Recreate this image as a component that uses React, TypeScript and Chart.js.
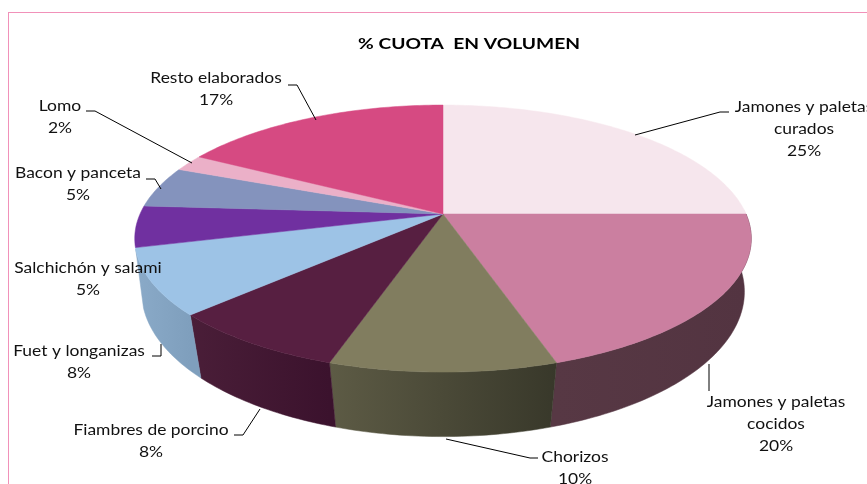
import React, { useEffect, useRef } from "react";
import { Chart, registerables } from "chart.js";

Chart.register(...registerables);

const categories = [
  "Jamones y paletas curados",
  "Jamones y paletas cocidos",
  "Chorizos",
  "Fiambres de porcino",
  "Fuet y longanizas",
  "Salchichón y salami",
  "Bacon y panceta",
  "Lomo",
  "Resto elaborados",
];
const values = [25, 20, 10, 8, 8, 5, 5, 2, 17];
const topColors = ["#f6e6ed", "#cb7fa0", "#817d5f", "#571f41", "#9dc3e6", "#7030a0", "#8493bd", "#ebb0c8", "#d64a82"];
const wallStart = ["#f6e6ed", "#533441", "#38382a", "#3b122d", "#7f9fbd", "#7030a0", "#8493bd", "#ebb0c8", "#d64a82"];
const wallEnd = ["#f6e6ed", "#573844", "#5d5b45", "#4a1e38", "#8aaac8", "#7030a0", "#8493bd", "#ebb0c8", "#d64a82"];
const titleText = "% CUOTA  EN VOLUMEN";

const labelLines = [
  ["Jamones y paletas", "curados", "25%"],
  ["Jamones y paletas", "cocidos", "20%"],
  ["Chorizos", "10%"],
  ["Fiambres de porcino", "8%"],
  ["Fuet y longanizas", "8%"],
  ["Salchichón y salami", "5%"],
  ["Bacon y panceta", "5%"],
  ["Lomo", "2%"],
  ["Resto elaborados", "17%"],
];
const labelAnchors = [
  [804, 107], [776, 402], [575, 457], [151, 430], [79, 351], [88, 268], [78, 173], [60, 106], [216, 78],
];
const leaders = [
  [[635, 135], [720, 112], [729, 112]],
  [[709, 364], [709, 391]],
  [[446, 439], [530, 458], [538, 458]],
  [[260, 409], [243, 435], [234, 435]],
  [[161, 344], [161, 356], [152, 356]],
  [],
  [[161, 189], [155, 179], [146, 179]],
  [[192, 163], [95, 111], [86, 111]],
  [[316, 120], [297, 85], [288, 85]],
];

// perspective planes of the pie: top face and bottom rim
const topPlane = { cx: 443, cy: 214, a: 303, b: 129, p: 0.184 };
const bottomPlane = { cx: 443, cy: 270, a: 298, b: 141.6, p: 0.15 };

type Plane = typeof topPlane;
const project = (pl: Plane, theta: number, r = 1): [number, number] => {
  const u = r * Math.sin(theta);
  const v = -r * Math.cos(theta);
  const d = 1 - pl.p * v;
  return [pl.cx + (pl.a * u) / d, pl.cy + (pl.b * v) / d];
};

const stretchedText = (ctx: CanvasRenderingContext2D, text: string, x: number, y: number, sx: number) => {
  ctx.save();
  ctx.translate(x, y);
  ctx.scale(sx, 1);
  ctx.fillText(text, 0, 0);
  ctx.restore();
};

const pie3d = {
  id: "pie3d",
  beforeDatasetDraw(chart: any) {
    const ctx = chart.ctx as CanvasRenderingContext2D;
    const arcs = chart.getDatasetMeta(0).data as any[];
    const step = Math.PI / 180;

    // walls
    const minT = (88 * Math.PI) / 180;
    const maxT = (255 * Math.PI) / 180;
    arcs.forEach((arc, i) => {
      const s = Math.max(arc.startAngle + Math.PI / 2, minT);
      const e = Math.min(arc.endAngle + Math.PI / 2, maxT);
      if (e <= s) return;
      const [x0] = project(topPlane, s);
      const [x1] = project(topPlane, e);
      const g = ctx.createLinearGradient(x0, 0, x1, 0);
      g.addColorStop(0, wallStart[i]);
      g.addColorStop(1, wallEnd[i]);
      ctx.beginPath();
      for (let t = s; t < e; t += step) ctx.lineTo(...project(topPlane, t));
      ctx.lineTo(...project(topPlane, e));
      for (let t = e; t > s; t -= step) ctx.lineTo(...project(bottomPlane, t));
      ctx.lineTo(...project(bottomPlane, s));
      ctx.closePath();
      ctx.fillStyle = g;
      ctx.strokeStyle = g;
      ctx.lineWidth = 0.5;
      ctx.fill();
      ctx.stroke();
    });

    // top face
    arcs.forEach((arc) => {
      const s = arc.startAngle + Math.PI / 2;
      const e = arc.endAngle + Math.PI / 2;
      ctx.beginPath();
      ctx.moveTo(topPlane.cx, topPlane.cy);
      for (let t = s; t < e; t += step) ctx.lineTo(...project(topPlane, t));
      ctx.lineTo(...project(topPlane, e));
      ctx.closePath();
      ctx.fillStyle = arc.options.backgroundColor;
      ctx.strokeStyle = arc.options.backgroundColor;
      ctx.lineWidth = 0.5;
      ctx.fill();
      ctx.stroke();
    });
    return false; // the native flat arcs are replaced by the projected ones
  },
  afterDraw(chart: any) {
    const ctx = chart.ctx as CanvasRenderingContext2D;
    ctx.save();
    // frame
    ctx.strokeStyle = "#f191b9";
    ctx.lineWidth = 1;
    ctx.strokeRect(8.5, 12.5, 900, 600);

    // leaders
    ctx.strokeStyle = "#000";
    ctx.lineWidth = 1;
    leaders.forEach((pts) => {
      if (!pts.length) return;
      ctx.beginPath();
      pts.forEach((p) => ctx.lineTo(p[0], p[1]));
      ctx.stroke();
    });

    // labels
    ctx.fillStyle = "#111";
    ctx.textAlign = "center";
    ctx.textBaseline = "middle";
    ctx.font = '16px Lato, "Open Sans", sans-serif';
    labelLines.forEach((lines, i) => {
      const [x, y] = labelAnchors[i];
      lines.forEach((line, j) => stretchedText(ctx, line, x, y + j * 22, 1.09));
    });

    // title
    ctx.fillStyle = "#000";
    ctx.font = 'bold 16px Lato, "Open Sans", sans-serif';
    stretchedText(ctx, titleText, 469, 44, 1.2);
    ctx.restore();
  },
};

export default function App() {
  const ref = useRef<HTMLCanvasElement>(null);
  useEffect(() => {
    const chart = new Chart(ref.current!, {
      type: "pie",
      data: {
        labels: categories,
        datasets: [{ data: values, backgroundColor: topColors, borderWidth: 0 }],
      },
      options: {
        animation: false,
        responsive: false,
        plugins: { legend: { display: false }, tooltip: { enabled: false } },
      },
      plugins: [pie3d],
    });
    return () => chart.destroy();
  }, []);
  return (
    <div style={{ position: "fixed", left: 0, top: 0, width: 867, height: 484, background: "#fff" }}>
      <canvas ref={ref} width={867} height={484} style={{ display: "block" }} />
    </div>
  );
}
